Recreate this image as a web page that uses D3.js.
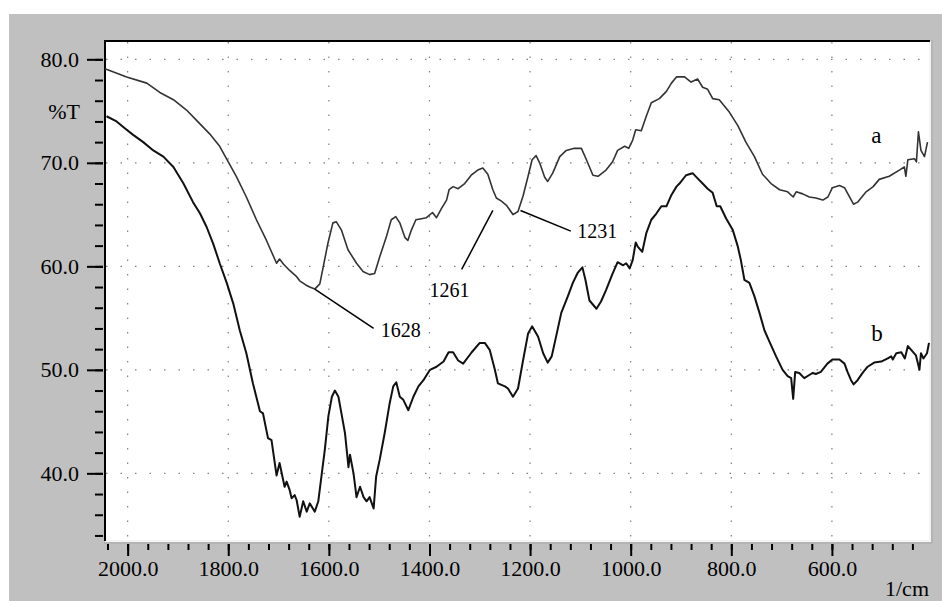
<!DOCTYPE html>
<html>
  <head>
    <meta charset="utf-8">
    <script src="https://cdn.jsdelivr.net/npm/d3@7"></script>
    <style>
      body { margin: 0; background: #fff; }
      svg text { font-family: "Liberation Serif", "Times New Roman", serif; }
    </style>
  </head>
  <body>
    <script>

      // spectrum a: wavenumber (1/cm) and transmittance (%T)
      var waveA = [2045, 2002, 1962, 1936, 1909, 1883, 1863, 1837, 1817, 1800, 1784, 1764, 1744, 1724, 1704, 1698, 1690, 1678, 1664, 1658, 1646, 1638, 1628, 1618, 1611, 1602, 1592, 1585, 1575, 1562, 1545, 1532, 1519, 1509, 1499, 1486, 1476, 1467, 1459, 1449, 1443, 1436, 1427, 1416, 1406, 1394, 1386, 1376, 1366, 1361, 1353, 1343, 1330, 1317, 1304, 1294, 1284, 1274, 1267, 1257, 1247, 1234, 1224, 1214, 1204, 1196, 1188, 1181, 1171, 1165, 1155, 1141, 1128, 1112, 1098, 1088, 1075, 1065, 1049, 1036, 1026, 1012, 1004, 996, 990, 979, 969, 959, 943, 929, 919, 909, 893, 880, 867, 857, 847, 837, 824, 804, 787, 771, 754, 738, 721, 704, 688, 677, 671, 658, 645, 632, 618, 608, 599, 585, 575, 565, 557, 549, 532, 518, 506, 486, 466, 456, 453, 449, 436, 432, 428, 423, 416, 410];
      var transA = [79.1, 78.3, 77.7, 76.8, 76.1, 75.1, 74.1, 72.8, 71.6, 70.1, 68.7, 66.7, 64.5, 62.5, 60.3, 60.7, 60.2, 59.6, 59.0, 58.6, 58.2, 58.0, 57.8, 58.3, 60.0, 62.2, 64.2, 64.3, 63.5, 61.6, 60.3, 59.5, 59.2, 59.3, 60.9, 62.8, 64.5, 64.8, 64.2, 62.8, 62.5, 63.5, 64.5, 64.6, 64.7, 65.2, 64.7, 65.6, 66.4, 67.4, 67.7, 67.5, 68.0, 68.8, 69.3, 69.5, 68.9, 67.4, 66.6, 66.3, 65.9, 65.0, 65.3, 66.8, 68.7, 70.3, 70.7, 70.0, 68.6, 68.2, 69.0, 70.6, 71.2, 71.4, 71.4, 70.3, 68.8, 68.7, 69.3, 70.1, 71.2, 71.6, 71.4, 72.2, 73.2, 73.1, 74.5, 75.8, 76.2, 76.9, 77.7, 78.3, 78.3, 77.8, 78.1, 77.3, 77.1, 76.2, 76.1, 74.9, 73.6, 72.0, 70.6, 68.9, 68.0, 67.4, 67.2, 66.7, 67.2, 67.0, 66.7, 66.6, 66.4, 66.7, 67.6, 67.8, 67.6, 66.7, 66.0, 66.2, 67.2, 67.7, 68.4, 68.7, 69.3, 69.6, 68.7, 70.3, 70.4, 70.1, 73.0, 71.2, 70.6, 72.0];

      // spectrum b
      var waveB = [2042, 2022, 2002, 1989, 1969, 1949, 1929, 1909, 1889, 1870, 1856, 1843, 1830, 1817, 1803, 1790, 1777, 1764, 1751, 1737, 1731, 1721, 1714, 1704, 1698, 1688, 1684, 1678, 1674, 1668, 1664, 1658, 1651, 1644, 1638, 1628, 1621, 1614, 1608, 1601, 1594, 1588, 1581, 1575, 1568, 1561, 1558, 1551, 1545, 1538, 1531, 1525, 1519, 1511, 1506, 1499, 1489, 1479, 1472, 1466, 1459, 1452, 1442, 1432, 1422, 1412, 1399, 1386, 1372, 1362, 1353, 1343, 1333, 1316, 1300, 1290, 1280, 1270, 1264, 1250, 1244, 1234, 1224, 1214, 1204, 1196, 1184, 1174, 1165, 1157, 1147, 1138, 1125, 1115, 1105, 1096, 1090, 1082, 1068, 1059, 1049, 1036, 1026, 1015, 1009, 1002, 996, 990, 986, 977, 969, 959, 949, 939, 929, 919, 909, 903, 890, 877, 867, 857, 847, 837, 829, 822, 810, 797, 787, 781, 774, 764, 754, 744, 734, 724, 711, 698, 688, 681, 677, 673, 665, 655, 645, 638, 632, 622, 609, 599, 585, 575, 569, 562, 557, 549, 539, 529, 516, 502, 489, 482, 479, 472, 462, 455, 449, 442, 433, 426, 423, 418, 411, 407];
      var transB = [74.5, 74.0, 73.2, 72.7, 72.0, 71.2, 70.6, 69.6, 68.0, 66.2, 65.1, 63.8, 62.2, 60.3, 58.4, 56.4, 53.8, 51.6, 48.7, 46.0, 45.8, 43.4, 43.2, 39.8, 41.0, 38.7, 39.2, 38.4, 37.6, 37.9, 37.4, 35.8, 37.3, 36.3, 37.1, 36.3, 37.3, 40.0, 42.3, 45.5, 47.4, 48.0, 47.4, 45.8, 43.9, 40.6, 41.8, 40.0, 37.7, 38.7, 37.7, 37.3, 37.7, 36.6, 39.7, 41.3, 43.9, 46.8, 48.4, 48.8, 47.4, 47.1, 46.1, 47.4, 48.4, 49.0, 50.0, 50.3, 50.8, 51.7, 51.7, 50.9, 50.6, 51.7, 52.6, 52.6, 51.9, 50.0, 48.7, 48.4, 48.2, 47.4, 48.2, 50.9, 53.5, 54.2, 53.2, 51.6, 50.7, 51.3, 53.5, 55.5, 57.1, 58.4, 59.4, 59.9, 58.7, 56.7, 55.9, 56.6, 57.7, 59.3, 60.4, 60.1, 60.3, 59.8, 60.6, 62.3, 61.9, 61.4, 63.2, 64.5, 65.1, 65.8, 65.8, 66.9, 67.7, 68.0, 68.8, 69.0, 68.5, 68.0, 67.5, 67.1, 65.8, 65.8, 64.6, 63.5, 61.9, 60.6, 58.7, 58.4, 57.1, 55.5, 53.8, 52.7, 51.3, 50.0, 49.4, 49.2, 47.2, 49.8, 49.7, 49.2, 49.5, 49.7, 49.6, 49.8, 50.6, 51.0, 51.0, 50.6, 49.8, 49.0, 48.6, 49.0, 49.7, 50.3, 50.7, 50.8, 51.1, 51.3, 51.0, 51.6, 51.7, 51.1, 52.3, 51.9, 51.4, 50.0, 51.6, 51.1, 51.6, 52.6];

      // ticks
      var xMajor = [2000, 1800, 1600, 1400, 1200, 1000, 800, 600];
      var xMinor = d3.range(2040, 430, -40);
      var yMajor = [40, 50, 60, 70, 80];
      var yMinor = d3.range(34, 81, 2);

      // peak labels: leader line [from wave, from T, to wave, to T] and text anchor [wave, T]
      var peakLabels = ["1628", "1261", "1231"];
      var peakLine = [[1628, 57.8, 1511, 54.0], [1274, 65.4, 1336, 59.7], [1219, 65.4, 1119, 63.4]];
      var peakText = [[1497, 53.2], [1400, 57.0], [1106, 62.75]];
      var curveNames = ["a", "b"];
      var curveNamePos = [[522, 71.9], [522, 52.8]];

      var W = 942, H = 601;
      var plot = {left: 105, right: 929, top: 41, bottom: 540};
      var serif = "'Liberation Serif', 'Times New Roman', serif";

      var svg = d3.select("body").append("svg")
          .attr("width", W)
          .attr("height", H);

      // gray panel
      svg.append("rect")
          .attr("x", 9).attr("y", 14)
          .attr("width", W - 9).attr("height", H - 14)
          .attr("fill", "#c0c0c0");

      // plot area
      svg.append("rect")
          .attr("x", plot.left).attr("y", plot.top)
          .attr("width", plot.right - plot.left)
          .attr("height", plot.bottom - plot.top)
          .attr("fill", "#fff");

      var x = d3.scaleLinear().domain([2045, 407]).range([plot.left, plot.right]);
      var y = d3.scaleLinear().domain([81.77, 33.56]).range([plot.top, plot.bottom]);

      // dotted grid
      svg.selectAll(".vgrid").data(xMajor).enter().append("line")
          .attr("x1", function(d) { return x(d); })
          .attr("x2", function(d) { return x(d); })
          .attr("y1", plot.top + 1).attr("y2", plot.bottom)
          .attr("stroke", "#808080")
          .attr("stroke-width", 1.2)
          .attr("stroke-dasharray", "1.5,13");

      svg.selectAll(".hgrid").data(yMajor).enter().append("line")
          .attr("y1", function(d) { return y(d); })
          .attr("y2", function(d) { return y(d); })
          .attr("x1", plot.left + 1).attr("x2", plot.right)
          .attr("stroke", "#808080")
          .attr("stroke-width", 1.2)
          .attr("stroke-dasharray", "1.5,13");

      // bevel of plot frame
      svg.append("line")
          .attr("x1", plot.right + 1).attr("x2", plot.right + 1)
          .attr("y1", plot.top).attr("y2", plot.bottom + 1)
          .attr("stroke", "#f4f4f4").attr("stroke-width", 2);
      svg.append("line")
          .attr("x1", plot.right + 3).attr("x2", plot.right + 3)
          .attr("y1", plot.top - 1).attr("y2", plot.bottom + 3)
          .attr("stroke", "#a8a8a8").attr("stroke-width", 1);
      svg.append("line")
          .attr("x1", plot.left).attr("x2", plot.right + 2)
          .attr("y1", plot.bottom + 1).attr("y2", plot.bottom + 1)
          .attr("stroke", "#f4f4f4").attr("stroke-width", 2);
      svg.append("line")
          .attr("x1", plot.left - 1).attr("x2", plot.right + 3)
          .attr("y1", plot.bottom + 3).attr("y2", plot.bottom + 3)
          .attr("stroke", "#a8a8a8").attr("stroke-width", 1);
      svg.append("line")
          .attr("x1", plot.left - 1).attr("x2", plot.right + 1)
          .attr("y1", plot.top).attr("y2", plot.top)
          .attr("stroke", "#000").attr("stroke-width", 2);
      svg.append("line")
          .attr("x1", plot.left).attr("x2", plot.left)
          .attr("y1", plot.top).attr("y2", plot.bottom + 1)
          .attr("stroke", "#000").attr("stroke-width", 2);

      // y axis ticks
      var yAxisMinor = svg.append("g")
          .attr("transform", "translate(" + (plot.left - 2) + ",0)")
          .call(d3.axisLeft(y).tickValues(yMinor).tickSize(8).tickFormat(""));
      var yAxisMajor = svg.append("g")
          .attr("transform", "translate(" + (plot.left - 2) + ",0)")
          .call(d3.axisLeft(y).tickValues(yMajor).tickSize(16).tickPadding(8)
            .tickFormat(d3.format(".1f")));

      // x axis ticks
      var xAxisMinor = svg.append("g")
          .attr("transform", "translate(0," + (plot.bottom + 4) + ")")
          .call(d3.axisBottom(x).tickValues(xMinor).tickSize(6).tickFormat(""));
      var xAxisMajor = svg.append("g")
          .attr("transform", "translate(0," + (plot.bottom + 4) + ")")
          .call(d3.axisBottom(x).tickValues(xMajor).tickSize(12).tickPadding(4)
            .tickFormat(d3.format(".1f")));

      [yAxisMinor, yAxisMajor, xAxisMinor, xAxisMajor].forEach(function(g) {
        g.attr("font-family", serif).attr("font-size", 22);
        g.select(".domain").remove();
        g.selectAll(".tick line").attr("stroke", "#000").attr("stroke-width", 2);
        g.selectAll(".tick text")
            .attr("fill", "#000")
            .style("font-family", serif)
            .style("font-size", "22px");
      });

      // axis titles
      svg.append("text")
          .attr("x", 80).attr("y", 119)
          .attr("text-anchor", "end")
          .style("font-family", serif)
          .style("font-size", "22px")
          .text("%T");
      svg.append("text")
          .attr("x", plot.right).attr("y", 596)
          .attr("text-anchor", "end")
          .style("font-family", serif)
          .style("font-size", "22px")
          .text("1/cm");

      // spectra
      var line = d3.line()
          .x(function(d) { return x(d[0]); })
          .y(function(d) { return y(d[1]); });

      svg.append("path")
          .datum(d3.zip(waveA, transA))
          .attr("fill", "none")
          .attr("stroke", "#333")
          .attr("stroke-width", 1.6)
          .attr("stroke-linejoin", "round")
          .attr("d", line);

      svg.append("path")
          .datum(d3.zip(waveB, transB))
          .attr("fill", "none")
          .attr("stroke", "#111")
          .attr("stroke-width", 2)
          .attr("stroke-linejoin", "round")
          .attr("d", line);

      // peak annotations
      svg.selectAll(".leader").data(peakLine).enter().append("line")
          .attr("x1", function(d) { return x(d[0]); })
          .attr("y1", function(d) { return y(d[1]); })
          .attr("x2", function(d) { return x(d[2]); })
          .attr("y2", function(d) { return y(d[3]); })
          .attr("stroke", "#000")
          .attr("stroke-width", 1.5);

      svg.selectAll(".peak").data(peakText).enter().append("text")
          .attr("x", function(d) { return x(d[0]); })
          .attr("y", function(d) { return y(d[1]); })
          .style("font-family", serif)
          .style("font-size", "20px")
          .text(function(d, i) { return peakLabels[i]; });

      svg.selectAll(".cname").data(curveNamePos).enter().append("text")
          .attr("x", function(d) { return x(d[0]); })
          .attr("y", function(d) { return y(d[1]); })
          .style("font-family", serif)
          .style("font-size", "23px")
          .text(function(d, i) { return curveNames[i]; });

    </script>
  </body>
</html>
